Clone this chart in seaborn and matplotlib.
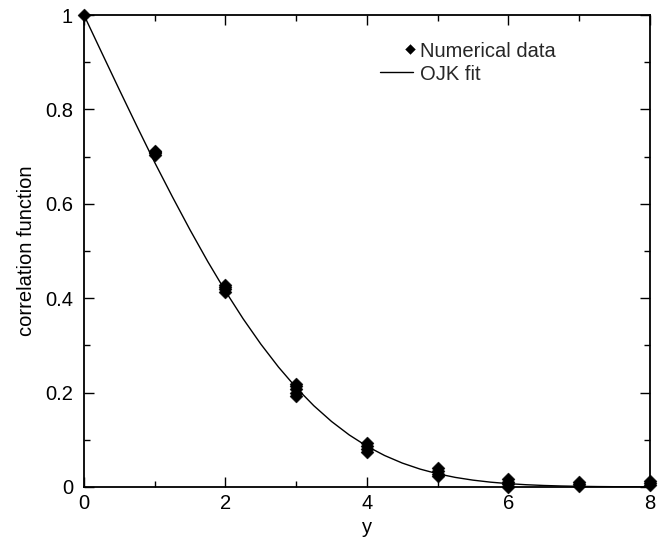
import numpy as np
import pandas as pd
import matplotlib
matplotlib.use("Agg")
import matplotlib.pyplot as plt
import seaborn as sns
from matplotlib.ticker import MultipleLocator
from matplotlib.legend_handler import HandlerPathCollection
from matplotlib.collections import PathCollection

# Numerical data: several runs at each separation y
data_y0 = [1.0]
data_y1 = [0.703, 0.707, 0.710, 0.713]
data_y2 = [0.414, 0.419, 0.424, 0.429]
data_y3 = [0.193, 0.200, 0.207, 0.213, 0.219]
data_y4 = [0.074, 0.080, 0.087, 0.094]
data_y5 = [0.023, 0.028, 0.034, 0.040]
data_y6 = [0.001, 0.006, 0.011, 0.016]
data_y7 = [0.002, 0.006, 0.010]
data_y8 = [0.004, 0.008, 0.012]
data_groups = [data_y0, data_y1, data_y2, data_y3, data_y4,
               data_y5, data_y6, data_y7, data_y8]

# OJK fit curve, read at steps of 0.25
fit_x = [0, 0.25, 0.5, 0.75, 1, 1.25, 1.5, 1.75, 2, 2.25, 2.5, 2.75, 3,
         3.25, 3.5, 3.75, 4, 4.25, 4.5, 4.75, 5, 5.25, 5.5, 5.75, 6,
         6.25, 6.5, 6.75, 7, 7.25, 7.5, 7.75, 8]
fit_c = [1.0, 0.9206, 0.8417, 0.7639, 0.6876, 0.6149, 0.5446, 0.4777,
         0.4149, 0.3564, 0.3028, 0.2541, 0.2105, 0.1721, 0.1388, 0.1103,
         0.0864, 0.0667, 0.0507, 0.0380, 0.0280, 0.0203, 0.0145, 0.0102,
         0.0071, 0.0048, 0.0032, 0.0021, 0.0014, 0.0009, 0.0006, 0.0004,
         0.0002]

xs, vs = [], []
for i, g in enumerate(data_groups):
    xs += [i] * len(g)
    vs += g
df_data = pd.DataFrame({"y": xs, "c": vs})
df_fit = pd.DataFrame({"y": fit_x, "c": fit_c})

sns.set_theme(style="ticks")
plt.rcParams['font.family'] = ['Liberation Sans', 'DejaVu Sans']

FS = 14.5

fig = plt.figure(figsize=(6.72, 5.39), dpi=100)
ax = fig.add_axes([0.125, 0.0965, 0.842, 0.8755])

sns.lineplot(data=df_fit, x="y", y="c", ax=ax, color="black", lw=1.0,
             label="OJK fit", zorder=2)
sns.scatterplot(data=df_data, x="y", y="c", ax=ax, marker="D", s=44,
                color="black", edgecolor="black", linewidth=0.3,
                label="Numerical data", zorder=3, clip_on=False)

ax.set_xlim(0, 8)
ax.set_ylim(0, 1)
ax.xaxis.set_minor_locator(MultipleLocator(1))
ax.yaxis.set_minor_locator(MultipleLocator(0.1))
ax.set_yticks([0, 0.2, 0.4, 0.6, 0.8, 1.0])
ax.set_yticklabels(["0", "0.2", "0.4", "0.6", "0.8", "1"])
ax.set_xticks([0, 2, 4, 6, 8])
ax.set_xticklabels(["0", "2", "4", "6", "8"])
ax.tick_params(which="both", direction="in", top=True, right=True,
               color="black", width=1.0, labelsize=FS, labelcolor="black")
ax.tick_params(which="major", length=7)
ax.tick_params(which="minor", length=4)
ax.tick_params(axis="x", which="major", pad=5)
ax.tick_params(axis="y", which="major", pad=8)
for sp in ax.spines.values():
    sp.set_visible(True)
    sp.set_linewidth(1.3)
    sp.set_color("black")

ax.set_xlabel("y", fontsize=FS, color="black", labelpad=4)
ax.set_ylabel("correlation function", fontsize=FS, color="black", labelpad=6.5)


class RightMarkerHandler(HandlerPathCollection):
    def get_xdata(self, legend, xdescent, ydescent, width, height, fontsize):
        xm = -xdescent + width - 2.5
        return [xm], [xm]


handles, labels = ax.get_legend_handles_labels()
order = [labels.index("Numerical data"), labels.index("OJK fit")]
ax.legend([handles[i] for i in order], [labels[i] for i in order],
          loc="upper left", bbox_to_anchor=(0.523, 0.944), frameon=False,
          fontsize=FS, handlelength=1.65, handletextpad=0.35,
          labelspacing=0.2, markerscale=0.75, borderpad=0,
          borderaxespad=0, scatterpoints=1, scatteryoffsets=[0.5],
          handler_map={PathCollection: RightMarkerHandler()})

fig.savefig("out.png", dpi=100)
